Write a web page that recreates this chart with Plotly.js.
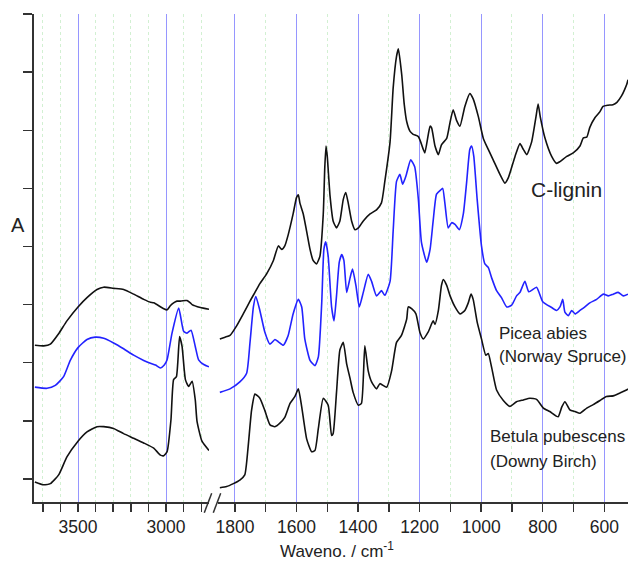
<!DOCTYPE html>
<html>
<head>
<meta charset="utf-8">
<script src="https://cdn.plot.ly/plotly-3.0.1.min.js"></script>
<style>html,body{margin:0;padding:0;background:#fff}#chart{width:628px;height:562px}</style>
</head>
<body>
<div id="chart"></div>
<script>
// ---- Data: high-wavenumber panel (cm-1) ----
const clLx = [3745,3695,3657,3610,3563,3500,3449,3392,3354,3298,3241,3184,3127,3089,3070,3013,2994,2976,2957,2938,2919,2890,2881,2862,2852,2805,2756];
const clLy = [2.30,2.29,2.32,2.50,2.72,2.96,3.12,3.26,3.30,3.28,3.26,3.18,3.09,3.04,3.03,2.93,2.91,2.98,3.03,3.06,3.06,3.07,3.07,3.03,3.00,2.95,2.92];

const pcLx = [3745,3676,3629,3582,3544,3500,3449,3402,3354,3298,3241,3184,3127,3089,3060,3032,3010,2994,2966,2928,2900,2881,2858,2834,2815,2786,2756];
const pcLy = [1.58,1.56,1.61,1.76,2.04,2.26,2.40,2.44,2.42,2.34,2.24,2.13,2.04,1.99,1.96,1.91,1.96,2.05,2.51,2.94,2.54,2.51,2.56,2.28,2.05,1.97,1.93];

const btLx = [3745,3695,3657,3610,3563,3500,3449,3392,3354,3298,3241,3184,3127,3070,3032,3013,2994,2972,2957,2941,2923,2909,2890,2872,2852,2834,2824,2796,2756];
const btLy = [-0.05,-0.10,-0.08,0.07,0.38,0.65,0.81,0.90,0.90,0.87,0.78,0.70,0.62,0.53,0.41,0.40,0.47,1.02,1.71,1.76,2.45,2.28,1.71,1.59,1.68,1.36,0.99,0.65,0.49];

// ---- Data: fingerprint panel (cm-1) ----
const clRx = [1849,1832,1816,1795,1773,1751,1735,1719,1697,1675,1659,1648,1638,1627,1611,1600,1594,1589,1578,1567,1556,1546,1535,1524,1513,1508,1504,1500,1491,1481,1470,1459,1448,1440,1432,1421,1410,1399,1383,1361,1340,1324,1313,1296,1286,1275,1269,1258,1250,1242,1231,1221,1204,1188,1183,1172,1166,1161,1150,1139,1129,1112,1101,1091,1080,1069,1053,1037,1026,1009,993,977,961,939,923,912,890,874,863,852,836,822,815,808,793,771,755,744,722,701,679,668,657,647,630,614,604,588,572,559,544,534,527,523];
const clRy = [2.41,2.44,2.47,2.63,2.84,3.06,3.21,3.36,3.53,3.76,4.01,3.95,4.01,4.20,4.56,4.84,4.89,4.75,4.56,4.26,3.95,3.76,3.70,3.83,4.56,5.37,5.73,5.55,4.87,4.44,4.32,4.44,4.81,4.93,4.75,4.44,4.29,4.32,4.44,4.56,4.63,4.75,5.12,5.80,6.72,7.27,7.40,6.95,6.45,6.15,5.98,5.93,5.89,5.67,5.61,5.92,6.07,6.04,5.73,5.58,5.75,5.86,6.14,6.35,6.17,6.07,6.41,6.63,6.54,6.23,5.86,5.67,5.49,5.24,5.09,5.18,5.55,5.77,5.67,5.58,5.80,6.23,6.45,6.23,5.87,5.55,5.43,5.46,5.55,5.61,5.73,5.87,5.88,6.05,6.22,6.32,6.41,6.43,6.44,6.48,6.59,6.70,6.79,6.87];

const pcRx = [1849,1816,1784,1762,1751,1740,1732,1719,1703,1686,1670,1659,1643,1627,1611,1594,1583,1573,1556,1540,1529,1518,1511,1505,1497,1486,1478,1470,1461,1453,1446,1437,1426,1418,1407,1396,1383,1367,1356,1340,1324,1313,1296,1286,1275,1264,1255,1244,1229,1216,1204,1194,1177,1166,1156,1145,1132,1125,1118,1107,1096,1085,1071,1058,1047,1037,1031,1024,1013,999,988,977,966,950,934,917,901,885,874,858,845,820,800,771,755,744,735,728,717,706,695,679,663,647,625,603,587,571,555,538,523];
const pcRy = [1.49,1.55,1.67,1.82,2.35,2.96,3.14,2.90,2.53,2.32,2.40,2.36,2.30,2.47,2.84,3.09,2.96,2.41,2.04,1.95,2.10,3.03,3.95,4.08,3.83,2.96,2.72,3.15,3.73,3.86,3.76,3.21,3.46,3.61,3.33,2.96,3.21,3.52,3.40,3.15,3.24,3.16,3.40,4.26,5.12,5.24,5.07,5.22,5.49,5.37,4.81,4.07,3.73,3.95,4.44,4.90,4.97,5.00,4.75,4.32,4.41,4.38,4.29,4.56,5.12,5.67,5.73,5.55,4.81,4.01,3.70,3.64,3.46,3.24,3.12,2.96,2.99,3.15,3.21,3.40,3.22,3.30,3.05,2.95,2.90,2.96,3.09,2.87,2.81,2.90,2.84,2.90,2.96,3.03,3.09,3.18,3.15,3.18,3.21,3.15,3.18];

const btRx = [1849,1827,1805,1784,1768,1757,1746,1735,1719,1703,1686,1670,1654,1638,1621,1605,1594,1583,1567,1551,1540,1529,1513,1497,1486,1481,1470,1459,1448,1437,1426,1416,1399,1389,1378,1367,1356,1340,1329,1307,1291,1275,1259,1242,1237,1226,1212,1199,1188,1172,1156,1150,1139,1129,1123,1112,1101,1085,1069,1053,1042,1033,1026,1013,999,985,977,966,950,928,907,885,863,842,820,798,777,750,738,728,712,695,679,657,636,614,593,571,549,528,523];
const btRy = [-0.15,-0.13,-0.08,-0.02,0.07,0.56,1.18,1.46,1.39,1.18,0.93,0.90,0.96,1.06,1.30,1.42,1.55,1.24,0.69,0.47,0.49,0.87,1.39,1.27,0.75,0.78,1.49,2.22,2.35,1.98,1.73,1.49,1.27,1.30,2.29,1.86,1.67,1.55,1.64,1.58,1.86,2.35,2.47,2.75,2.96,2.93,2.84,2.52,2.41,2.53,2.72,2.66,2.90,3.33,3.43,3.33,3.15,2.96,2.84,2.90,3.03,3.18,3.09,2.70,2.41,2.13,2.16,1.92,1.53,1.35,1.25,1.33,1.36,1.39,1.37,1.22,1.16,1.07,1.24,1.33,1.19,1.16,1.13,1.22,1.28,1.35,1.42,1.43,1.48,1.53,1.55];

// ---- Axis ticks ----
const leftTicks = [3500, 3000];
const rightTicks = [1800, 1600, 1400, 1200, 1000, 800, 600];

const BLACK = '#111111', BLUE = '#2222ff';
function tr(x, y, color, xa) {
  return {x: x, y: y, xaxis: xa, yaxis: 'y', type: 'scatter', mode: 'lines',
          line: {color: color, width: 1.6, shape: 'spline', smoothing: 0.5},
          hoverinfo: 'skip', showlegend: false};
}
const data = [
  tr(clLx, clLy, BLACK, 'x'), tr(pcLx, pcLy, BLUE, 'x'), tr(btLx, btLy, BLACK, 'x'),
  tr(clRx, clRy, BLACK, 'x2'), tr(pcRx, pcRy, BLUE, 'x2'), tr(btRx, btRy, BLACK, 'x2')
];

const FONT = 'Liberation Sans, Arial, sans-serif';
const W = 628, H = 562, ML = 34, MR = 0, MT = 14, MB = 60;
const PW = W - ML - MR, PH = H - MT - MB;
const px = v => (v - ML) / PW;
const py = v => (H - MB - v) / PH;

function xax(domain, range, ticks) {
  return {
    domain: domain, range: range, anchor: 'y',
    tickmode: 'array', tickvals: ticks, ticktext: ticks.map(String),
    ticks: 'outside', ticklen: 8, tickwidth: 1.5, tickcolor: '#333',
    showline: true, linecolor: '#333', linewidth: 2,
    showgrid: true, gridcolor: 'rgb(150,150,255)', gridwidth: 1,
    minor: {dtick: 100, tick0: 0, ticks: 'outside', ticklen: 8, tickwidth: 1.5, tickcolor: '#333',
            showgrid: true, gridcolor: 'rgb(210,240,210)', griddash: 'dot', gridwidth: 1},
    zeroline: false, fixedrange: true,
    tickfont: {family: FONT, size: 17.5, color: '#222'}
  };
}

const layout = {
  width: W, height: H,
  margin: {l: ML, r: MR, t: MT, b: MB, pad: 0},
  paper_bgcolor: '#fff', plot_bgcolor: '#fff',
  showlegend: false,
  xaxis: xax([0, px(209)], [3750, 2756], leftTicks),
  xaxis2: xax([px(218), 1], [1855, 523], rightTicks),
  yaxis: {
    range: [-0.396, 8.0], anchor: 'x', tickmode: 'linear', tick0: 0, dtick: 1,
    ticks: 'outside', ticklen: 9, tickwidth: 1.5, tickcolor: '#333',
    showticklabels: false, showline: true, linecolor: '#333', linewidth: 2,
    showgrid: false, zeroline: false, fixedrange: true
  },
  shapes: [
    {type: 'line', xref: 'paper', yref: 'paper', x0: px(204.3), y0: py(512.7), x1: px(211.7), y1: py(493.3), line: {color: '#333', width: 1.5}},
    {type: 'line', xref: 'paper', yref: 'paper', x0: px(213.3), y0: py(512.7), x1: px(220.7), y1: py(493.3), line: {color: '#333', width: 1.5}}
  ],
  annotations: [
    {text: 'A', xref: 'paper', yref: 'paper', x: px(18), y: py(225), xanchor: 'center', yanchor: 'middle', showarrow: false, font: {family: FONT, size: 20, color: '#222'}},
    {text: 'Waveno. / cm<sup>-1</sup>', xref: 'paper', yref: 'paper', x: px(337), y: py(550), xanchor: 'center', yanchor: 'middle', showarrow: false, font: {family: FONT, size: 17, color: '#222'}},
    {text: 'C-lignin', xref: 'paper', yref: 'paper', x: px(566.5), y: py(190), xanchor: 'center', yanchor: 'middle', showarrow: false, font: {family: FONT, size: 21, color: '#222'}},
    {text: 'Picea abies', xref: 'paper', yref: 'paper', x: px(497), y: py(333), xanchor: 'left', yanchor: 'middle', showarrow: false, font: {family: FONT, size: 17, color: '#222'}},
    {text: '(Norway Spruce)', xref: 'paper', yref: 'paper', x: px(497), y: py(357), xanchor: 'left', yanchor: 'middle', showarrow: false, font: {family: FONT, size: 17, color: '#222'}},
    {text: 'Betula pubescens', xref: 'paper', yref: 'paper', x: px(488), y: py(436), xanchor: 'left', yanchor: 'middle', showarrow: false, font: {family: FONT, size: 17, color: '#222'}},
    {text: '(Downy Birch)', xref: 'paper', yref: 'paper', x: px(488), y: py(461), xanchor: 'left', yanchor: 'middle', showarrow: false, font: {family: FONT, size: 17, color: '#222'}}
  ]
};

Plotly.newPlot('chart', data, layout, {staticPlot: true, displayModeBar: false});
</script>
</body>
</html>
